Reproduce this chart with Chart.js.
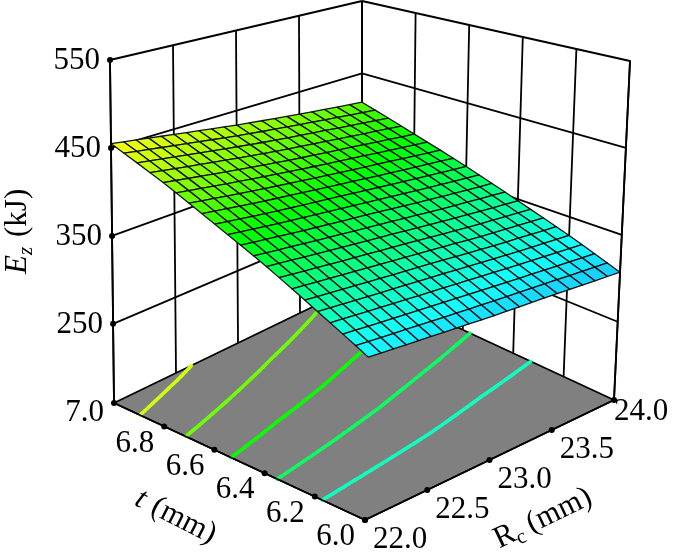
<!DOCTYPE html>
<html>
<head>
<meta charset="utf-8">
<script src="https://cdn.jsdelivr.net/npm/chart.js@4/dist/chart.umd.min.js"></script>
<style>
  html, body { margin: 0; padding: 0; background: #fff; }
  #wrap { width: 673px; height: 560px; position: relative; }
</style>
</head>
<body>
<div id="wrap"><canvas id="chart"></canvas></div>
<script>
/* data */
var tTicks = [7.0, 6.8, 6.6, 6.4, 6.2, 6.0];          // rows
var rTicks = [22.0, 22.5, 23.0, 23.5, 24.0];           // columns
var zTicks = [250, 350, 450, 550];
var zGrid = [                                          // Ez (kJ) at [t][Rc]
  [455, 444, 432, 421, 410],
  [428, 418, 408, 399, 389],
  [400, 392, 385, 377, 369],
  [373, 367, 361, 354, 348],
  [345, 341, 337, 332, 328],
  [318, 315, 312, 310, 307]
];
var contourLevels = [441, 416, 391, 366, 341];
var zMin = 160, zMax = 550;

/* view: floor corners in chart units (u = t from 7 to 6, v = Rc from 22 to 24) */
function proj(u, v, z) {
  var w = (z - zMin) / (zMax - zMin);
  var fx = 114 + 251 * u + 248 * v + 1 * u * v;
  var fy = 403 + 117 * u - 120 * v;
  var h  = 343 + 59 * u - 61 * v - 2 * u * v;
  var dx = -4 + 12 * u + 4 * v + 4 * u * v;
  return [fx + dx * w, fy - h * w];
}
function zAt(u, v) {               // reads the grid, bilinear within a cell
  var fu = u * (tTicks.length - 1), fv = v * (rTicks.length - 1);
  var i = Math.min(Math.floor(fu), tTicks.length - 2), j = Math.min(Math.floor(fv), rTicks.length - 2);
  var a = fu - i, b = fv - j;
  return zGrid[i][j] * (1 - a) * (1 - b) + zGrid[i + 1][j] * a * (1 - b) +
         zGrid[i][j + 1] * (1 - a) * b + zGrid[i + 1][j + 1] * a * b;
}
function colorFor(z) {
  var hue = 60 + (455 - z) / 148 * 135;
  var light = 50 + Math.abs(z - 390) / 65 * 4;
  return "hsl(" + hue + ",100%," + light + "%)";
}

var surfacePlugin = {
  id: "surface3d",
  afterDatasetsDraw: function (chart) {
    var ctx = chart.ctx, xs = chart.scales.x, ys = chart.scales.y;
    function P(u, v, z) { var p = proj(u, v, z); return [xs.getPixelForValue(p[0]), ys.getPixelForValue(p[1])]; }
    function poly(pts, fill, stroke, lw) {
      ctx.beginPath();
      pts.forEach(function (p, k) { k ? ctx.lineTo(p[0], p[1]) : ctx.moveTo(p[0], p[1]); });
      ctx.closePath();
      if (fill) { ctx.fillStyle = fill; ctx.fill(); }
      if (stroke) { ctx.strokeStyle = stroke; ctx.lineWidth = lw; ctx.stroke(); }
    }
    function line(a, b, c, lw) {
      ctx.beginPath(); ctx.moveTo(a[0], a[1]); ctx.lineTo(b[0], b[1]);
      ctx.strokeStyle = c; ctx.lineWidth = lw; ctx.stroke();
    }
    ctx.save();
    ctx.lineJoin = "round";

    /* walls */
    zTicks.forEach(function (z) {
      line(P(0, 0, z), P(0, 1, z), "#000", 1.8);
      line(P(0, 1, z), P(1, 1, z), "#000", 1.8);
    });
    rTicks.forEach(function (r, j) { var v = j / (rTicks.length - 1); line(P(0, v, zMin), P(0, v, zMax), "#000", 1.8); });
    tTicks.forEach(function (t, i) { var u = i / (tTicks.length - 1); line(P(u, 1, zMin), P(u, 1, zMax), "#000", 1.8); });

    /* floor */
    poly([P(0, 0, zMin), P(1, 0, zMin), P(1, 1, zMin), P(0, 1, zMin)], "#808080", "#000", 1.8);

    /* floor contours */
    var N = 40;
    ctx.lineCap = "round";
    contourLevels.forEach(function (lv) {
      var col = colorFor(lv);
      for (var a = 0; a < N; a++) for (var b = 0; b < N; b++) {
        var c = [[a / N, b / N], [(a + 1) / N, b / N], [(a + 1) / N, (b + 1) / N], [a / N, (b + 1) / N]];
        var pts = [];
        for (var k = 0; k < 4; k++) {
          var p = c[k], q = c[(k + 1) % 4];
          var zp = zAt(p[0], p[1]) - lv, zq = zAt(q[0], q[1]) - lv;
          if (zp !== zq && ((zp <= 0 && zq > 0) || (zp > 0 && zq <= 0))) {
            var s = zp / (zp - zq);
            pts.push(P(p[0] + s * (q[0] - p[0]), p[1] + s * (q[1] - p[1]), zMin));
          }
        }
        if (pts.length >= 2) line(pts[0], pts[1], col, 3.5);
      }
    });

    /* surface, painted far to near */
    var M = 20, quads = [];
    for (var i = 0; i < M; i++) for (var j = 0; j < M; j++) quads.push([i, j]);
    quads.sort(function (A, B) { return (B[1] - B[0]) - (A[1] - A[0]); });
    quads.forEach(function (q) {
      var u0 = q[0] / M, u1 = (q[0] + 1) / M, v0 = q[1] / M, v1 = (q[1] + 1) / M;
      var zc = zAt((u0 + u1) / 2, (v0 + v1) / 2);
      poly([P(u0, v0, zAt(u0, v0)), P(u1, v0, zAt(u1, v0)), P(u1, v1, zAt(u1, v1)), P(u0, v1, zAt(u0, v1))],
           colorFor(zc), "#111", 1.3);
    });

    /* box edges and ticks */
    line(P(0, 0, zMin), P(0, 0, zMax), "#000", 1.8);
    line(P(1, 1, zMin), P(1, 1, zMax), "#000", 1.8);
    line(P(0, 0, zMin), P(1, 0, zMin), "#000", 1.8);
    line(P(1, 0, zMin), P(1, 1, zMin), "#000", 1.8);

    ctx.fillStyle = "#000";
    var F = "'Liberation Serif', 'DejaVu Serif', serif";
    ctx.font = "31px " + F;
    ctx.textBaseline = "middle";
    function dot(p) { ctx.beginPath(); ctx.arc(p[0], p[1], 3, 0, Math.PI * 2); ctx.fill(); }
    ctx.textAlign = "right";
    zTicks.forEach(function (z) { var p = P(0, 0, z); dot(p); ctx.fillText(String(z), p[0] - 10, p[1] + 1); });
    tTicks.forEach(function (t, i) {
      var p = P(i / (tTicks.length - 1), 0, zMin); dot(p);
      ctx.fillText(t.toFixed(1), p[0] - 10, p[1] + (i ? 17 : 10));
    });
    ctx.textAlign = "left";
    rTicks.forEach(function (r, j) {
      var p = P(1, j / (rTicks.length - 1), zMin); dot(p);
      ctx.fillText(r.toFixed(1), p[0] + (j < rTicks.length - 1 ? 8 : 0), p[1] + (j < rTicks.length - 1 ? 20 : 12));
    });

    /* axis titles */
    ctx.save();
    ctx.translate(18, 222); ctx.rotate(-Math.PI / 2);
    ctx.textAlign = "left";
    ctx.font = "italic 31px " + F; ctx.fillText("E", -52, 0);
    ctx.font = "italic 21px " + F; ctx.fillText("z", -33, 8);
    ctx.font = "31px " + F; ctx.fillText("(kJ)", -15, 0);
    ctx.restore();

    ctx.save();
    ctx.translate(178, 518); ctx.rotate(0.47);
    ctx.textAlign = "left";
    ctx.font = "italic 31px " + F; ctx.fillText("t", -46, 0);
    ctx.font = "31px " + F; ctx.fillText("(mm)", -28, 0);
    ctx.restore();

    ctx.save();
    ctx.translate(548, 516); ctx.rotate(-0.45);
    ctx.textAlign = "left";
    ctx.font = "31px " + F; ctx.fillText("R", -58, 0);
    ctx.font = "21px " + F; ctx.fillText("c", -38, 8);
    ctx.font = "31px " + F; ctx.fillText("(mm)", -22, 0);
    ctx.restore();

    ctx.restore();
  }
};

new Chart(document.getElementById("chart"), {
  type: "scatter",
  data: { datasets: [{ data: [], pointRadius: 0 }] },
  options: {
    responsive: true, maintainAspectRatio: false, animation: false,
    layout: { padding: 0 },
    plugins: { legend: { display: false }, tooltip: { enabled: false } },
    scales: {
      x: { type: "linear", min: 0, max: 673, display: false },
      y: { type: "linear", min: 0, max: 560, reverse: true, display: false }
    }
  },
  plugins: [surfacePlugin]
});
</script>
</body>
</html>
